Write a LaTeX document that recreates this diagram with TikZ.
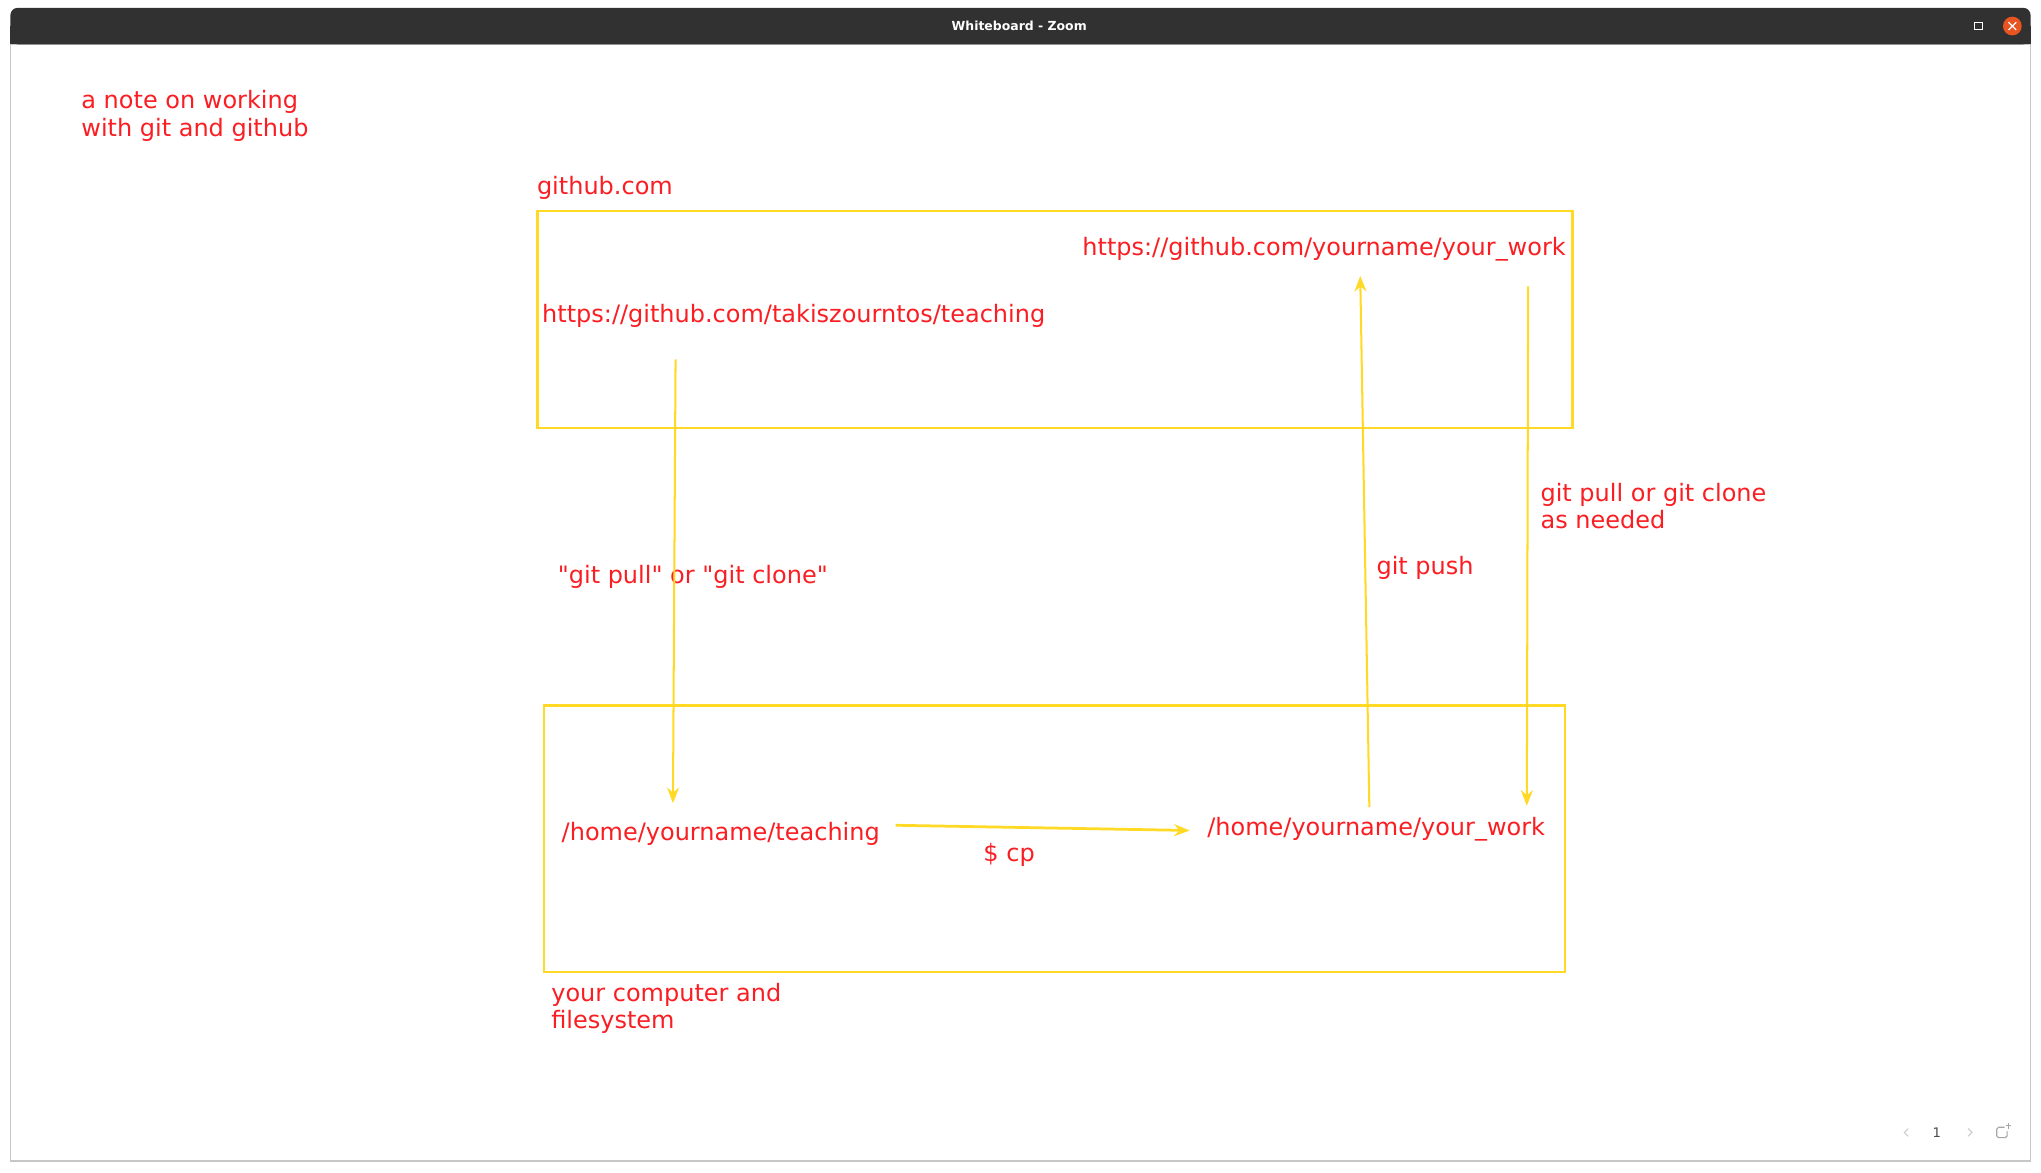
\documentclass[tikz,border=0pt]{standalone}
\usepackage{fontspec}
\setmainfont{DejaVu Sans}
\usepackage{xcolor}
\usetikzlibrary{arrows.meta,positioning}
\definecolor{inkred}{RGB}{250,30,35}
\definecolor{inkyellow}{RGB}{255,217,35}
\definecolor{barcol}{RGB}{50,49,49}
\definecolor{closecol}{RGB}{233,84,32}
\newcommand{\wbtext}{\fontsize{6.55pt}{7.47pt}\selectfont}

\begin{document}
\begin{tikzpicture}[x=0.0125cm,y=-0.0125cm]
			\tikzset{label text/.style={inner sep=0pt,anchor=base west,text=inkred,font=\wbtext,align=left}}
			\tikzset{pen/.style={draw=inkyellow,line width=0.55pt,-{Stealth[length=0.15cm,width=0.115cm,inset=0.05cm]}}}
			\tikzset{frame/.style={draw=inkyellow,line width=0.6pt}}
			\useasboundingbox[fill=white] (0,0) rectangle (1568,900.4);
			\draw[black!22,line width=0.4pt] (8,34) rectangle (1560,892);
			\fill[barcol,rounded corners=2pt] (8,6) rectangle (1560,34);
			\fill[barcol] (8,20) rectangle (1560,34);
			\node[text=white,font=\fontsize{3.4pt}{4pt}\selectfont\bfseries] (title) at (783,20) {Whiteboard - Zoom};
			\node[draw=white,line width=0.3pt,minimum size=0.07cm,inner sep=0pt] (maxbtn) at (1520,20) {};
			\node[circle,fill=closecol,minimum size=0.18cm,inner sep=0pt] (closebtn) at (1546,20) {};
			\draw[white,line width=0.35pt] (1543,17) -- (1549,23) (1543,23) -- (1549,17);
			\node[text=black!70,font=\fontsize{3.6pt}{4pt}\selectfont] (pagenum) at (1488,870) {1};
			\draw[black!20,line width=0.3pt] (1466,867) -- (1463,870) -- (1466,873) (1512,867) -- (1515,870) -- (1512,873);
			\draw[black!35,line width=0.3pt,rounded corners=0.5pt] (1540,866) -- (1534,866) -- (1534,874) -- (1542,874) -- (1542,869);
			\draw[black!35,line width=0.3pt] (1543,863) -- (1543,867) (1541,865) -- (1545,865);
			\node[label text] (note) at (62,104.5) {a note on working\\with git and github};
			\node[label text] (ghlabel) at (412,149.5) {github.com};
			\draw[frame] (413,162) rectangle (1208,329);
			\node[label text] (yourremote) at (831,196) {https://github.com/yourname/your\_work};
			\node[label text] (teachremote) at (416,248) {https://github.com/takiszourntos/teaching};
			\draw[frame] (418,542) rectangle (1202,747);
			\node[label text] (teachlocal) at (431,646) {/home/yourname/teaching};
			\node[label text] (yourlocal) at (927,642) {/home/yourname/your\_work};
			\node[label text] (pcrlabel) at (423,790.5) {your computer and\\filesystem};
			\node[label text] (pulllabel) at (428,448) {\textquotedbl git pull\textquotedbl{} or \textquotedbl git clone\textquotedbl};
			\node[label text] (pushlabel) at (1057,441) {git push};
			\node[label text] (neededlabel) at (1183,406) {git pull or git clone\\as needed};
			\node[label text] (cplabel) at (755,662) {\$ cp};
			\coordinate (pullA) at (519,276);
			\coordinate (pullB) at (517,617);
			\coordinate (pushA) at (1052,620);
			\coordinate (pushB) at (1045,212);
			\coordinate (syncA) at (1174,220);
			\coordinate (syncB) at (1173,619);
			\coordinate (cpA) at (688,634);
			\coordinate (cpB) at (914,638);
			\draw[pen] (pullA) -- (pullB);
			\draw[pen] (pushA) -- (pushB);
			\draw[pen] (syncA) -- (syncB);
			\draw[pen,line width=0.75pt] (cpA) -- (cpB);
		\end{tikzpicture}
\end{document}
